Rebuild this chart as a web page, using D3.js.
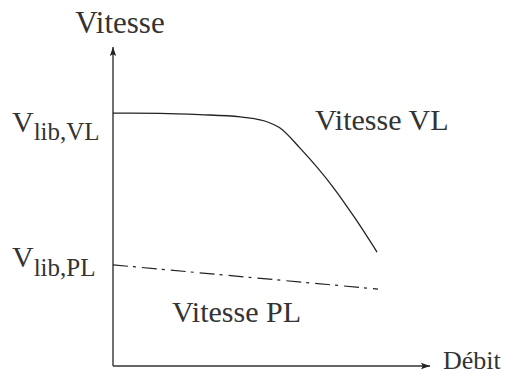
<!DOCTYPE html>
<meta charset="utf-8">
<style>
  body { margin: 0; background: #fff; }
</style>
<script src="https://d3js.org/d3.v7.min.js"></script>
<div id="chart"></div>
<script>

// data (débit / vitesse, arbitrary units 0-100)
var debitVL   = [0, 14.8, 27.4, 40.1, 47.9, 52.7, 59.0, 69.4, 76.3, 83.3];
var vitesseVL = [79.3, 79.2, 78.8, 78.1, 76.8, 74.6, 68.3, 56.1, 46.4, 35.7];
var debitPL   = [0, 83.6];
var vitessePL = [31.7, 24.1];
var curveLabels = ["Vitesse VL", "Vitesse PL"];
var axisLabels = ["Vitesse", "Débit"];

var width = 513, height = 377;

var svg = d3.select("#chart")
  .append("svg")
    .attr("width", width)
    .attr("height", height)
    .attr("font-family", "Liberation Serif, Tinos, Noto Serif, Nimbus Roman, FreeSerif, DejaVu Serif, serif")
    .attr("fill", "#333");

var x = d3.scaleLinear().domain([0, 100]).range([113, 430]);
var y = d3.scaleLinear().domain([0, 100]).range([366, 47]);

// arrow head
svg.append("defs").append("marker")
    .attr("id", "arrow")
    .attr("viewBox", "0 0 10 10")
    .attr("refX", 10).attr("refY", 5)
    .attr("markerWidth", 9).attr("markerHeight", 9)
    .attr("markerUnits", "userSpaceOnUse")
    .attr("orient", "auto")
  .append("path")
    .attr("d", "M0,1.5 L10,5 L0,8.5 L2,5 Z")
    .attr("fill", "#222");

// axes
svg.append("line")
    .attr("x1", x(0)).attr("y1", y(0))
    .attr("x2", x(0)).attr("y2", y(100))
    .attr("stroke", "#333").attr("stroke-width", 1.4)
    .attr("marker-end", "url(#arrow)");
svg.append("line")
    .attr("x1", x(0)).attr("y1", y(0))
    .attr("x2", x(100)).attr("y2", y(0))
    .attr("stroke", "#333").attr("stroke-width", 1.4)
    .attr("marker-end", "url(#arrow)");

svg.append("text")
    .attr("x", 120).attr("y", 33)
    .attr("text-anchor", "middle")
    .attr("font-size", 31)
    .text(axisLabels[0]);
svg.append("text")
    .attr("x", 443).attr("y", 369)
    .attr("font-size", 26)
    .text(axisLabels[1]);

// free-flow speed labels
function vlib(sub, yy, dy) {
  var t = svg.append("text")
      .attr("x", 12).attr("y", yy)
      .attr("font-size", 30);
  t.append("tspan").text("V");
  t.append("tspan")
      .attr("dy", dy)
      .attr("font-size", 25)
      .text("lib," + sub);
}
vlib("VL", y(vitesseVL[0]) + 19, 8);
vlib("PL", y(vitessePL[0]) + 2, 9);

// curves
var line = d3.line()
    .x(function(d) { return x(d[0]); })
    .y(function(d) { return y(d[1]); })
    .curve(d3.curveMonotoneX);

svg.append("path")
    .datum(d3.zip(debitVL, vitesseVL))
    .attr("d", line)
    .attr("fill", "none")
    .attr("stroke", "#222")
    .attr("stroke-width", 1.3);

svg.append("path")
    .datum(d3.zip(debitPL, vitessePL))
    .attr("d", d3.line().x(function(d) { return x(d[0]); }).y(function(d) { return y(d[1]); }))
    .attr("fill", "none")
    .attr("stroke", "#222")
    .attr("stroke-width", 1.2)
    .attr("stroke-dasharray", "15,5,3,6");

svg.append("text")
    .attr("x", 315).attr("y", 130)
    .attr("font-size", 30)
    .text(curveLabels[0]);
svg.append("text")
    .attr("x", 172).attr("y", 322)
    .attr("font-size", 30)
    .text(curveLabels[1]);

</script>
